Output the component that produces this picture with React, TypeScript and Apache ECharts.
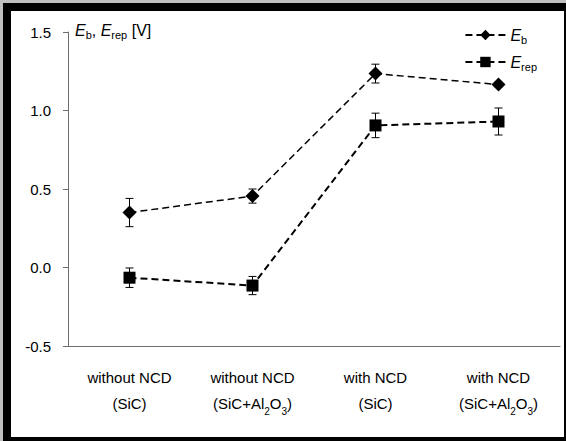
import React, { useEffect, useRef } from "react";
import * as echarts from "echarts";

const catTop = ["without NCD", "without NCD", "with NCD", "with NCD"];
const catBottom = ["(SiC)", "(SiC+Al2O3)", "(SiC)", "(SiC+Al2O3)"];
const categories = catTop.map((t, i) => t + " " + catBottom[i]);

const ebValues = [0.35, 0.455, 1.235, 1.165];
const ebErrors = [0.09, 0.045, 0.06, 0.015];
const erepValues = [-0.065, -0.115, 0.905, 0.93];
const erepErrors = [0.062, 0.058, 0.078, 0.086];

const yTicks = { min: -0.5, max: 1.5, interval: 0.5 };

const FONT = "'Liberation Sans', Arial, sans-serif";

function subRich(s: string): string {
  let out = "";
  let buf = "";
  for (const ch of s) {
    if (/[0-9]/.test(ch)) {
      if (buf) out += "{a|" + buf + "}";
      buf = "";
      out += "{s|" + ch + "}";
    } else buf += ch;
  }
  if (buf) out += "{a|" + buf + "}";
  return out;
}

function errorSeries(values: number[], errors: number[], name: string) {
  return {
    type: "custom",
    name: name + "-err",
    z: 1,
    silent: true,
    data: values.map((v, i) => [i, v, errors[i]]),
    renderItem: (params: any, api: any) => {
      const x = api.value(0);
      const v = api.value(1);
      const e = api.value(2);
      const top = api.coord([x, v + e]);
      const bot = api.coord([x, v - e]);
      const w = 4;
      const st = { stroke: "#000", lineWidth: 1 };
      return {
        type: "group",
        children: [
          { type: "line", shape: { x1: top[0], y1: top[1], x2: bot[0], y2: bot[1] }, style: st },
          { type: "line", shape: { x1: top[0] - w, y1: top[1], x2: top[0] + w, y2: top[1] }, style: st },
          { type: "line", shape: { x1: bot[0] - w, y1: bot[1], x2: bot[0] + w, y2: bot[1] }, style: st },
        ],
      };
    },
  };
}

export default function App() {
  const ref = useRef<HTMLDivElement>(null);
  useEffect(() => {
    if (!ref.current) return;
    const chart = echarts.init(ref.current, null, { renderer: "svg" });
    const labelRich = {
      a: { fontSize: 15, fontFamily: FONT, color: "#000", lineHeight: 26 },
      s: { fontSize: 10, fontFamily: FONT, color: "#000", lineHeight: 14, verticalAlign: "bottom" },
    };
    const option: any = {
      animation: false,
      backgroundColor: "#c0c0c0",
      graphic: [
        { type: "rect", z: -10, shape: { x: 3, y: 3, width: 563, height: 438 }, style: { fill: "#000" } },
        { type: "rect", z: -9, shape: { x: 11, y: 11, width: 553, height: 426 }, style: { fill: "#fff" } },
        {
          type: "text",
          left: 75,
          top: 22,
          style: {
            text: "{e|E}{s|b}{a|, }{e|E}{s|rep}{a| [V]}",
            fill: "#000",
            rich: {
              e: { fontSize: 16, fontStyle: "italic", fontFamily: FONT, fill: "#000", color: "#000", lineHeight: 20 },
              a: { fontSize: 16, fontFamily: FONT, fill: "#000", color: "#000", lineHeight: 20 },
              s: { fontSize: 11, fontFamily: FONT, fill: "#000", color: "#000", lineHeight: 12, verticalAlign: "bottom" },
            },
          },
        },
      ],
      grid: { left: 68, right: 6, top: 32, bottom: 95, containLabel: false },
      legend: {
        orient: "vertical",
        right: 24,
        top: 22,
        itemWidth: 40,
        itemHeight: 13,
        itemGap: 9,
        data: ["Eb", "Erep"],
        formatter: (n: string) => (n === "Eb" ? "{e|E}{s|b}" : "{e|E}{s|rep}"),
        textStyle: {
          color: "#000",
          rich: {
            e: { fontSize: 16, fontStyle: "italic", fontFamily: FONT, color: "#000", lineHeight: 20 },
            s: { fontSize: 11, fontFamily: FONT, color: "#000", lineHeight: 12, verticalAlign: "bottom" },
          },
        },
      },
      xAxis: [
        {
          type: "category",
          data: categories,
          boundaryGap: true,
          axisLine: { onZero: false, lineStyle: { color: "#6e6e6e", width: 1 } },
          axisTick: { inside: true, length: 5, lineStyle: { color: "#6e6e6e" } },
          axisLabel: {
            margin: 18,
            interval: 0,
            formatter: (_v: string, i: number) => "{a|" + catTop[i] + "}\n" + subRich(catBottom[i]),
            rich: labelRich,
          },
        },
        {
          type: "category",
          data: categories,
          position: "bottom",
          boundaryGap: true,
          axisLine: { show: false, onZero: false },
          axisTick: { alignWithLabel: true, length: 4, lineStyle: { color: "#6e6e6e" } },
          axisLabel: { show: false },
        },
      ],
      yAxis: {
        type: "value",
        min: yTicks.min,
        max: yTicks.max,
        interval: yTicks.interval,
        splitLine: { show: false },
        axisLine: { show: true, lineStyle: { color: "#6e6e6e" } },
        axisTick: { show: true, length: 5, lineStyle: { color: "#6e6e6e" } },
        axisLabel: {
          margin: 17,
          color: "#000",
          fontSize: 15,
          fontFamily: FONT,
          formatter: (v: number) => v.toFixed(1),
        },
      },
      series: [
        errorSeries(ebValues, ebErrors, "Eb"),
        errorSeries(erepValues, erepErrors, "Erep"),
        {
          type: "line",
          name: "Eb",
          z: 3,
          data: ebValues,
          symbol: "diamond",
          symbolSize: 14,
          itemStyle: { color: "#000" },
          lineStyle: { color: "#000", width: 1.5, type: [7, 4] },
        },
        {
          type: "line",
          name: "Erep",
          z: 3,
          data: erepValues,
          symbol: "rect",
          symbolSize: 12,
          itemStyle: { color: "#000" },
          lineStyle: { color: "#000", width: 2, type: [7, 4] },
        },
      ],
    };
    chart.setOption(option);
    return () => chart.dispose();
  }, []);
  return <div ref={ref} style={{ width: 566, height: 441, position: "absolute", left: 0, top: 0 }} />;
}
